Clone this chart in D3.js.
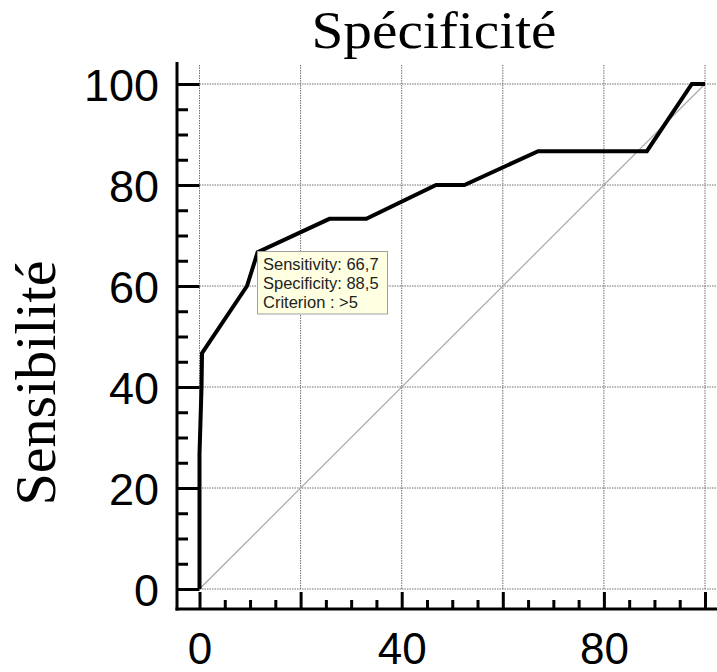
<!DOCTYPE html>
<html>
<head>
<meta charset="utf-8">
<script src="https://cdn.jsdelivr.net/npm/d3@7"></script>
<style>
  body { margin: 0; background: #fff; }
  svg { display: block; }
</style>
</head>
<body>
<svg id="chart"></svg>
<script>
var width = 717;
var height = 672;

// ROC curve (100 - specificity, sensitivity)
var rocX = [0, 0, 0.4, 0.5, 9.4, 11.5, 25.7, 33, 46.8, 52.4, 67, 88.5, 97.4, 100];
var rocY = [0, 26.7, 40, 46.7, 60, 66.7, 73.3, 73.3, 80, 80, 86.7, 86.7, 100, 100];
var majorTicks = [0, 20, 40, 60, 80, 100];
var minorTicks = d3.range(0, 101, 5).filter(function(d){ return d % 20 !== 0; });
var xTickLabels = [0, 40, 80];
var yTickLabels = [0, 20, 40, 60, 80, 100];
var tipLines = ['Sensitivity: 66,7', 'Specificity: 88,5', 'Criterion : >5'];

var xScale = d3.scaleLinear().domain([0, 100]).range([199.5, 705]);
var yScale = d3.scaleLinear().domain([0, 100]).range([589, 84]);

var axisX = 177;   // y axis line position
var axisY = 609;   // x axis line position

var svg = d3.select('#chart').attr('width', width).attr('height', height);

// grid
svg.append('g').selectAll('line').data(majorTicks).enter().append('line')
  .attr('x1', d => xScale(d)).attr('x2', d => xScale(d))
  .attr('y1', 65).attr('y2', yScale(0))
  .attr('stroke', '#707070').attr('stroke-width', 1).attr('stroke-dasharray', '1.5,1');
svg.append('g').selectAll('line').data(majorTicks).enter().append('line')
  .attr('x1', xScale(0)).attr('x2', width)
  .attr('y1', d => yScale(d)).attr('y2', d => yScale(d))
  .attr('stroke', '#707070').attr('stroke-width', 1).attr('stroke-dasharray', '1.5,1');

// diagonal
svg.append('line')
  .attr('x1', xScale(0)).attr('y1', yScale(0))
  .attr('x2', xScale(100)).attr('y2', yScale(100))
  .attr('stroke', '#a8a8a8').attr('stroke-width', 1.2);

// ticks (drawn inward from axis lines)
function styleTicks(g){
  g.select('.domain').remove();
  g.selectAll('line').attr('stroke', '#000').attr('stroke-width', 3);
  g.selectAll('text').remove();
}
svg.append('g').attr('transform', `translate(${axisX},0)`)
  .call(d3.axisRight(yScale).tickValues(majorTicks).tickSize(xScale(0) - axisX))
  .call(styleTicks);
svg.append('g').attr('transform', `translate(${axisX},0)`)
  .call(d3.axisRight(yScale).tickValues(minorTicks).tickSize(11))
  .call(styleTicks);
svg.append('g').attr('transform', `translate(0,${axisY})`)
  .call(d3.axisTop(xScale).tickValues(majorTicks).tickSize(17))
  .call(styleTicks);
svg.append('g').attr('transform', `translate(0,${axisY})`)
  .call(d3.axisTop(xScale).tickValues(minorTicks).tickSize(9))
  .call(styleTicks);

// axis lines
svg.append('line').attr('x1', axisX).attr('x2', axisX).attr('y1', 62).attr('y2', axisY + 1.5)
  .attr('stroke', '#000').attr('stroke-width', 3);
svg.append('line').attr('x1', axisX - 1.5).attr('x2', width).attr('y1', axisY).attr('y2', axisY)
  .attr('stroke', '#000').attr('stroke-width', 3);

// tick labels
var yLab = svg.append('g').attr('transform', 'translate(159,0)')
  .call(d3.axisLeft(yScale).tickValues(yTickLabels).tickSize(0).tickPadding(0));
yLab.select('.domain').remove();
yLab.selectAll('text').attr('font-family', 'Liberation Sans, Arial, sans-serif')
  .attr('font-size', 45).attr('fill', '#000').attr('dy', '0.36em');

var xLab = svg.append('g').attr('transform', `translate(0,${axisY})`)
  .call(d3.axisBottom(xScale).tickValues(xTickLabels).tickSize(0).tickPadding(24));
xLab.select('.domain').remove();
xLab.selectAll('text').attr('font-family', 'Liberation Sans, Arial, sans-serif')
  .attr('font-size', 44).attr('fill', '#000');

// ROC curve
var rocData = rocX.map((x, i) => ({x: x, y: rocY[i]}));
svg.append('path')
  .datum(rocData)
  .attr('fill', 'none')
  .attr('stroke', '#000')
  .attr('stroke-width', 4)
  .attr('stroke-linejoin', 'miter')
  .attr('d', d3.line().x(d => xScale(d.x)).y(d => yScale(d.y)));

// tooltip
var tip = svg.append('g').attr('transform', 'translate(257.5,251.5)');
tip.append('rect').attr('width', 130).attr('height', 62.5)
  .attr('fill', '#ffffe1').attr('stroke', '#a0a0a0').attr('stroke-width', 1);
tip.selectAll('text').data(tipLines).enter().append('text')
  .attr('x', 5.5).attr('y', (d, i) => 18.5 + i * 19)
  .attr('font-family', 'Liberation Sans, Arial, sans-serif')
  .attr('font-size', 16.5).attr('fill', '#222')
  .text(d => d);

// titles
svg.append('text')
  .attr('x', 434).attr('y', 48)
  .attr('text-anchor', 'middle')
  .attr('font-family', 'Liberation Serif, Times New Roman, serif')
  .attr('font-size', 53)
  .attr('textLength', 245).attr('lengthAdjust', 'spacingAndGlyphs')
  .text('Spécificité');

svg.append('text')
  .attr('transform', 'translate(55,383) rotate(-90)')
  .attr('text-anchor', 'middle')
  .attr('font-family', 'Liberation Serif, Times New Roman, serif')
  .attr('font-size', 58)
  .text('Sensibilité');
</script>
</body>
</html>
